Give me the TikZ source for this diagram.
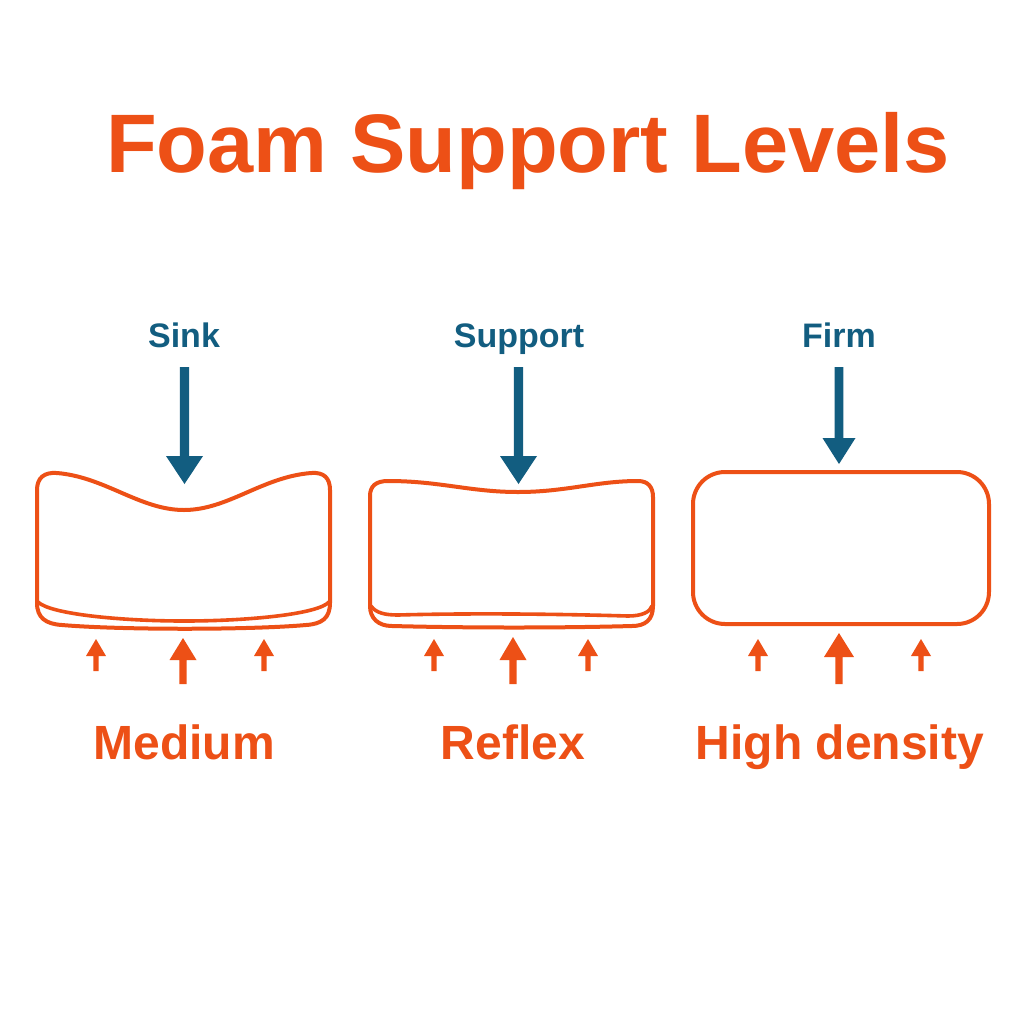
\documentclass[tikz,border=0pt]{standalone}
\usepackage{fontspec}
\setmainfont{Liberation Sans}
\definecolor{foamorange}{RGB}{237,80,22}
\definecolor{foamblue}{RGB}{18,93,128}
\newcommand\foamarrow[6]{% x, tail y, head base y, tip y, shaft half width, head half width
  \fill (#1-#5,#2) -- (#1-#5,#3) -- (#1-#6,#3) -- (#1,#4) -- (#1+#6,#3) -- (#1+#5,#3) -- (#1+#5,#2) -- cycle;}
\begin{document}
\begin{tikzpicture}[x=0.5pt,y=-0.5pt,
  titletext/.style={text=foamorange,font=\bfseries\fontsize{41.5pt}{45pt}\selectfont,anchor=base,inner sep=0pt},
  topl/.style={text=foamblue,font=\bfseries\fontsize{17pt}{19pt}\selectfont,anchor=base,inner sep=0pt},
  botl/.style={text=foamorange,font=\bfseries\fontsize{24pt}{26pt}\selectfont,anchor=base,inner sep=0pt},
  foam/.style={draw=foamorange,line width=2pt,line join=round},
  foamin/.style={draw=foamorange,line width=1.8pt,line cap=round}]
\useasboundingbox (0,0) rectangle (1024,1024);
\fill[white] (0,0) rectangle (1024,1024);

\node[titletext] (title) at (528,172) {Foam Support Levels};

% top labels
\node[topl] (sink) at (184,347) {Sink};
\node[topl] (support) at (519,347) {Support};
\node[topl] (firm) at (839,347) {Firm};

% blue arrows
\begin{scope}[fill=foamblue]
\foamarrow{184.5}{367}{456}{484}{4.7}{18.5}
\foamarrow{518.5}{367}{456}{484}{4.7}{18.5}
\foamarrow{839}{367}{438}{464}{4.3}{16.5}
\end{scope}

% box 1 (Medium)
\draw[foam] (37,600) -- (37,490) .. controls (37,478) and (44,472) .. (57,473)
  .. controls (105,477) and (140,510) .. (184,510)
  .. controls (228,510) and (262,477) .. (311,473)
  .. controls (324,472) and (330,478) .. (330,490)
  -- (330,603) .. controls (330,618) and (322,624) .. (306,625)
  .. controls (250,630) and (120,630) .. (62,625)
  .. controls (46,624) and (37,618) .. (37,603) -- cycle;
\draw[foamin] (38,602) .. controls (50,614) and (120,621) .. (184,621)
  .. controls (250,621) and (318,614) .. (329,602);

% box 2 (Reflex)
\draw[foam] (370,600) -- (370,496) .. controls (370,486) and (376,481) .. (388,481)
  .. controls (440,481) and (470,492) .. (518,492)
  .. controls (566,492) and (596,481) .. (638,481)
  .. controls (648,481) and (653,487) .. (653,497)
  -- (653,606) .. controls (653,620) and (645,626) .. (632,626)
  .. controls (560,628) and (470,628) .. (392,626)
  .. controls (378,626) and (370,618) .. (370,606) -- cycle;
\draw[foamin] (371,606) .. controls (376,613) and (385,615) .. (398,615)
  .. controls (470,613) and (560,614) .. (628,616)
  .. controls (642,616) and (650,612) .. (652,606);

% box 3 (High density)
\draw[foam,rounded corners=16] (693,472) rectangle (989,624);

% orange arrows
\begin{scope}[fill=foamorange]
\foamarrow{96}{671}{656}{639}{2.6}{10}
\foamarrow{183}{684}{660}{638}{3.6}{13.5}
\foamarrow{264}{671}{656}{639}{2.6}{10}
\foamarrow{434}{671}{656}{639}{2.6}{10}
\foamarrow{513}{684}{660}{637}{3.6}{13.5}
\foamarrow{588}{671}{656}{639}{2.6}{10}
\foamarrow{758}{671}{656}{639}{2.6}{10}
\foamarrow{839}{684}{657}{633}{3.6}{15}
\foamarrow{921}{671}{656}{639}{2.6}{10}
\end{scope}

% bottom labels
\node[botl] (medium) at (184,759) {Medium};
\node[botl] (reflex) at (513,759) {Reflex};
\node[botl] (high) at (840,759) {High density};
\end{tikzpicture}
\end{document}
